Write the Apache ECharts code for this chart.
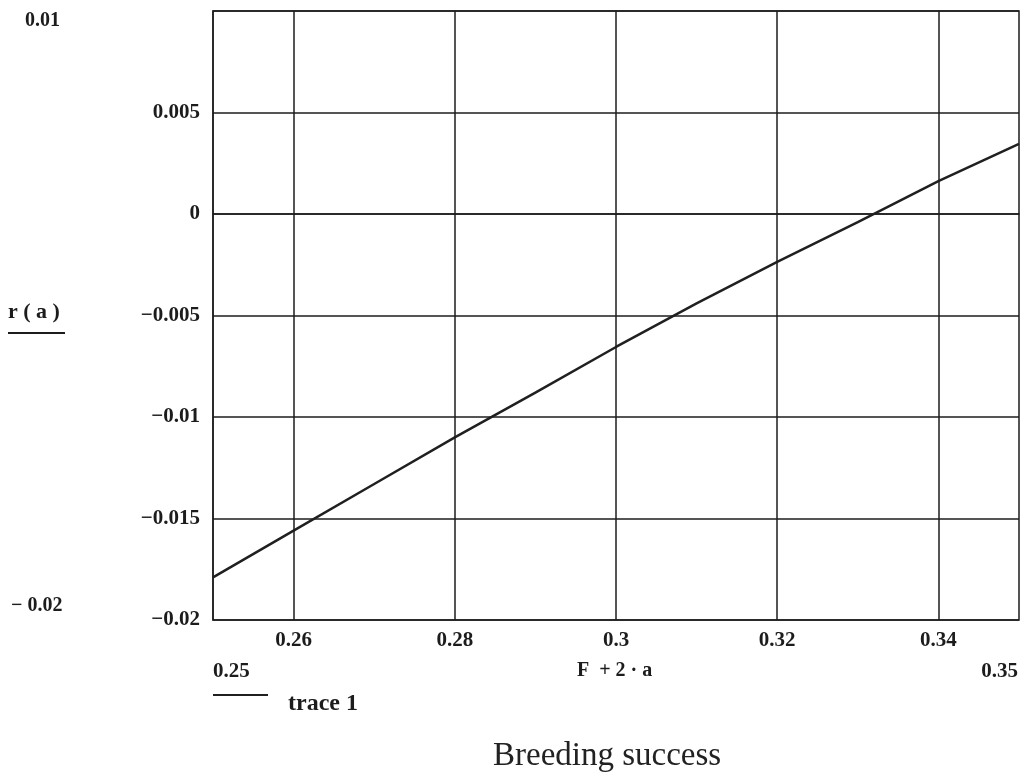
<!DOCTYPE html>
<html>
<head>
<meta charset="utf-8">
<script src="https://cdn.jsdelivr.net/npm/echarts@6/dist/echarts.min.js"></script>
<style>
html,body{margin:0;padding:0;background:#fff;}
#chart{width:1024px;height:772px;}
</style>
</head>
<body>
<div id="chart"></div>
<script>
// Data
const xValues = [0.25, 0.26, 0.27, 0.28, 0.29, 0.30, 0.31, 0.32, 0.33, 0.34, 0.35];
const rValues = [-0.0179, -0.0156, -0.0133, -0.0110, -0.0088, -0.00655, -0.0044, -0.00236, -0.0004, 0.00162, 0.00345];
const xTickLabels = [0.26, 0.28, 0.30, 0.32, 0.34];
const yTickLabels = [-0.02, -0.015, -0.01, -0.005, 0, 0.005];
const seriesName = 'trace 1';
const xRangeLabels = ['0.25', '0.35'];
const yRangeLabels = ['0.01', '\u2212 0.02'];
const xExpr = 'F  + 2 \u00b7 a';
const yExpr = 'r ( a )';
const xTitle = 'Breeding success';

const INK = '#1c1c1c';
const SERIF = '"Liberation Serif", "DejaVu Serif", serif';

function fmtNum(v) {
  let s = String(+v.toFixed(4));
  return s.replace('-', '\u2212');
}

const chart = echarts.init(document.getElementById('chart'));
const option = {
  backgroundColor: '#ffffff',
  animation: false,
  grid: {
    left: 213, top: 11, right: 5, bottom: 152,
    show: true, borderColor: INK, borderWidth: 1.5, backgroundColor: 'transparent'
  },
  xAxis: {
    type: 'value',
    min: 0.25, max: 0.35, interval: 0.01,
    axisLine: { show: true, lineStyle: { color: INK, width: 1.5 } },
    axisTick: { show: false },
    splitLine: { show: false },
    axisLabel: {
      margin: 10,
      fontFamily: SERIF, fontWeight: 'bold', fontSize: 21, color: INK,
      formatter: function (v) {
        for (const t of xTickLabels) { if (Math.abs(t - v) < 1e-9) return fmtNum(v); }
        return '';
      }
    }
  },
  yAxis: {
    type: 'value',
    min: -0.02, max: 0.01, interval: 0.005,
    axisLine: { show: true, lineStyle: { color: INK, width: 1.5 } },
    axisTick: { show: false },
    splitLine: { show: true, lineStyle: { color: INK, width: 1.5 } },
    axisLabel: {
      margin: 13,
      fontFamily: SERIF, fontWeight: 'bold', fontSize: 21, color: INK,
      formatter: function (v) {
        for (const t of yTickLabels) { if (Math.abs(t - v) < 1e-9) return fmtNum(v); }
        return '';
      }
    }
  },
  legend: {
    show: true,
    left: 213, top: 692, padding: 0,
    itemWidth: 55, itemHeight: 24, itemGap: 20,
    data: [{ name: seriesName, icon: 'path://M0,0 L0.1,0 L0.1,0.1 Z M0,2 L55,2 L55,4 L0,4 Z M0,24 L0.1,24 L0.1,23.9 Z' }],
    textStyle: {
      fontFamily: SERIF, fontWeight: 'bold', fontSize: 24, color: INK,
      padding: [0, 0, 0, 15]
    }
  },
  series: [{
    name: seriesName,
    type: 'line',
    data: xValues.map((x, i) => [x, rValues[i]]),
    showSymbol: false,
    symbol: 'none',
    lineStyle: { color: '#202020', width: 2.5 },
    itemStyle: { color: '#202020' },
    markLine: {
      silent: true,
      symbol: 'none',
      label: { show: false },
      lineStyle: { color: INK, width: 1.5, type: 'solid' },
      data: xTickLabels.map(v => ({ xAxis: v }))
    }
  }],
  graphic: [
    { type: 'text', left: 25, top: 11, style: { text: yRangeLabels[0], font: 'bold 20px ' + SERIF, fill: INK } },
    { type: 'text', left: 11, top: 596, style: { text: yRangeLabels[1], font: 'bold 20px ' + SERIF, fill: INK } },
    { type: 'text', left: 8, top: 301, style: { text: yExpr, font: 'bold 22px ' + SERIF, fill: INK } },
    { type: 'rect', shape: { x: 8, y: 332, width: 57, height: 2 }, style: { fill: INK } },
    { type: 'text', left: 213, top: 661, style: { text: xRangeLabels[0], font: 'bold 21px ' + SERIF, fill: INK } },
    { type: 'text', right: 6, top: 661, style: { text: xRangeLabels[1], font: 'bold 21px ' + SERIF, fill: INK } },
    { type: 'text', left: 577, top: 661, style: { text: xExpr, font: 'bold 20px ' + SERIF, fill: INK } },
    { type: 'text', left: 493, top: 740, style: { text: xTitle, font: '33px ' + SERIF, fill: '#222' } }
  ]
};
chart.setOption(option);
</script>
</body>
</html>
